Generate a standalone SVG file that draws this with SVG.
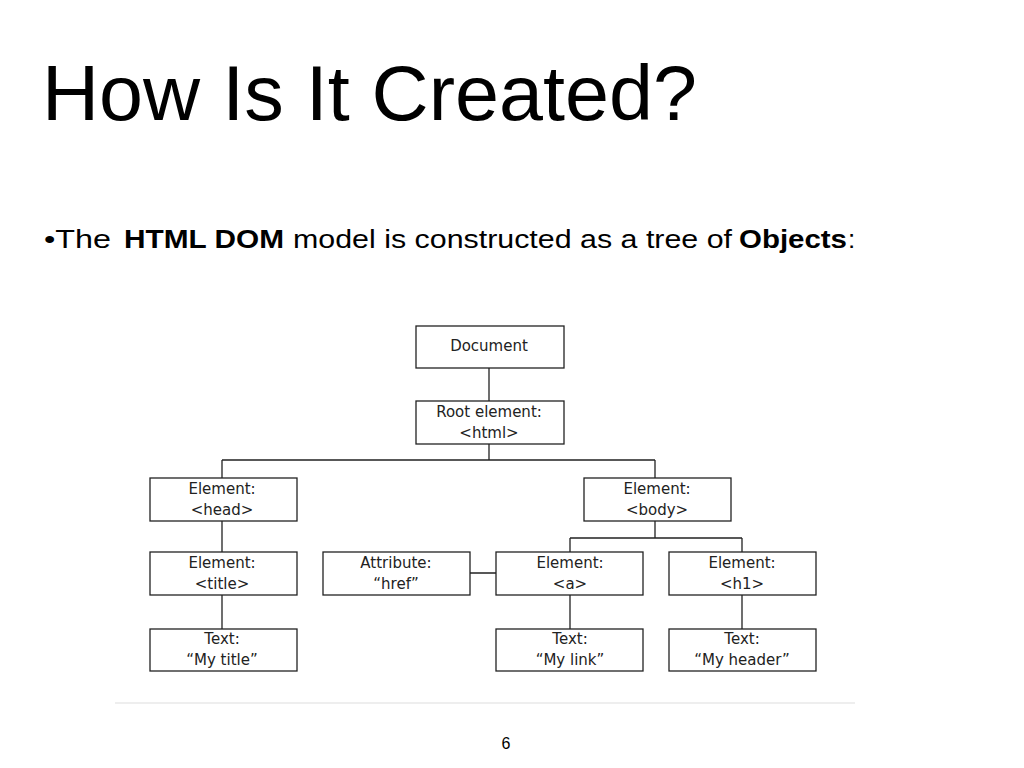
<svg xmlns="http://www.w3.org/2000/svg" width="1024" height="768" viewBox="0 0 1024 768">
<style>
.b{fill:#fff;stroke:#222;stroke-width:1.3}
.t{font-family:"DejaVu Sans",sans-serif;font-size:15px;fill:#222;text-anchor:middle}
.c{stroke:#222;stroke-width:1.3;fill:none}
.s{font-family:"Liberation Sans",sans-serif;font-size:26px;fill:#000}
</style>
<rect width="1024" height="768" fill="#fff"/>
<text x="42" y="120" font-family="Liberation Sans,sans-serif" font-size="78" fill="#000" textLength="655" lengthAdjust="spacingAndGlyphs">How Is It Created?</text>
<text class="s" x="44" y="248" textLength="67" lengthAdjust="spacingAndGlyphs">•The</text>
<text class="s" x="124" y="248" font-weight="bold" textLength="160" lengthAdjust="spacingAndGlyphs">HTML DOM</text>
<text class="s" x="293" y="248" textLength="439" lengthAdjust="spacingAndGlyphs">model is constructed as a tree of</text>
<text class="s" x="739" y="248" font-weight="bold" textLength="108" lengthAdjust="spacingAndGlyphs">Objects</text>
<text class="s" x="848" y="248">:</text>
<g id="connectors">
<path class="c" d="M489 368V401M489 444V460M222 460H655M222 460V478M655 460V478M655 521V538M570 538H742M570 538V552M742 538V552M222 521V552M222 595V629M570 595V629M742 595V629M470 573H496"/>
</g>
<g id="document"><rect class="b" x="416" y="326" width="148" height="42"/><text class="t" x="489" y="351">Document</text></g>
<g id="root"><rect class="b" x="416" y="401" width="148" height="43"/><text class="t" x="489" y="417">Root element:</text><text class="t" x="489" y="438">&lt;html&gt;</text></g>
<g id="head"><rect class="b" x="150" y="478" width="147" height="43"/><text class="t" x="222" y="494">Element:</text><text class="t" x="222" y="515">&lt;head&gt;</text></g>
<g id="body"><rect class="b" x="584" y="478" width="147" height="43"/><text class="t" x="657" y="494">Element:</text><text class="t" x="657" y="515">&lt;body&gt;</text></g>
<g id="title"><rect class="b" x="150" y="552" width="147" height="43"/><text class="t" x="222" y="568">Element:</text><text class="t" x="222" y="589">&lt;title&gt;</text></g>
<g id="attr"><rect class="b" x="323" y="552" width="147" height="43"/><text class="t" x="396" y="568">Attribute:</text><text class="t" x="396" y="589">“href”</text></g>
<g id="a"><rect class="b" x="496" y="552" width="147" height="43"/><text class="t" x="570" y="568">Element:</text><text class="t" x="570" y="589">&lt;a&gt;</text></g>
<g id="h1"><rect class="b" x="669" y="552" width="147" height="43"/><text class="t" x="742" y="568">Element:</text><text class="t" x="742" y="589">&lt;h1&gt;</text></g>
<g id="t1"><rect class="b" x="150" y="629" width="147" height="42"/><text class="t" x="222" y="644">Text:</text><text class="t" x="222" y="665">“My title”</text></g>
<g id="t2"><rect class="b" x="496" y="629" width="147" height="42"/><text class="t" x="570" y="644">Text:</text><text class="t" x="570" y="665">“My link”</text></g>
<g id="t3"><rect class="b" x="669" y="629" width="147" height="42"/><text class="t" x="742" y="644">Text:</text><text class="t" x="742" y="665">“My header”</text></g>
<line x1="115" y1="703" x2="855" y2="703" stroke="#eee" stroke-width="2"/>
<text x="506" y="749" font-family="Liberation Sans,sans-serif" font-size="16" text-anchor="middle">6</text>
</svg>
